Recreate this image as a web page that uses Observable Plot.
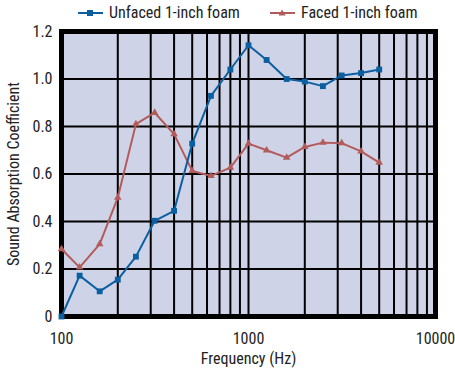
<!DOCTYPE html>
<html>
<head>
<meta charset="utf-8">
<script src="https://cdn.jsdelivr.net/npm/d3@7"></script>
<script src="https://cdn.jsdelivr.net/npm/@observablehq/plot@0.6"></script>
<style>
  html, body { margin: 0; padding: 0; background: #fff; }
  body { width: 455px; height: 368px; overflow: hidden; font-family: "Liberation Sans Narrow", "Roboto Condensed", "Arial Narrow", Roboto, sans-serif; }
  #legend { position: relative; height: 16px; font-size: 16px; color: #222; z-index: 2; }
  .item { position: absolute; top: 3px; display: flex; align-items: center; white-space: nowrap; }
  .item svg { margin-right: 6px; }
</style>
</head>
<body>
<div id="legend"></div>
<div id="chart"></div>
<script>
const frequencies = [100,125,160,200,250,315,400,500,630,800,1000,1250,1600,2000,2500,3150,4000,5000];
const unfaced = [0.0,0.172,0.106,0.155,0.252,0.403,0.445,0.728,0.929,1.04,1.142,1.08,1.0,0.989,0.97,1.015,1.025,1.04];
const faced = [0.284,0.207,0.305,0.501,0.81,0.858,0.768,0.613,0.592,0.627,0.728,0.70,0.669,0.714,0.732,0.730,0.695,0.648];
const seriesNames = ["Unfaced 1-inch foam", "Faced 1-inch foam"];
const seriesColors = ["#0b5fa0", "#b35b5b"];
const xGrid = [100,200,300,400,500,600,700,800,900,1000,2000,3000,4000,5000,6000,7000,8000,9000,10000];
const xTicks = [100, 1000, 10000];
const yTicks = [0, 0.2, 0.4, 0.6, 0.8, 1.0, 1.2];

const dataU = frequencies.map((f, i) => ({f, v: unfaced[i]}));
const dataF = frequencies.map((f, i) => ({f, v: faced[i]}));

// legend
const legend = document.getElementById("legend");
const legendPos = [78, 270];
seriesNames.forEach((name, i) => {
  const div = document.createElement("div");
  div.className = "item";
  div.style.left = legendPos[i] + "px";
  const sym = i === 0
    ? `<rect x="9" y="4" width="6" height="6" fill="${seriesColors[i]}"/>`
    : `<path d="M12,3.5 L15.5,9.5 L8.5,9.5 Z" fill="${seriesColors[i]}"/>`;
  div.innerHTML = `<svg width="25" height="14"><line x1="0" x2="25" y1="7" y2="7" stroke="${seriesColors[i]}" stroke-width="2"/>${sym}</svg><span>${name}</span>`;
  legend.appendChild(div);
});

const chart = Plot.plot({
  width: 455,
  height: 352,
  marginTop: 15,
  marginBottom: 52,
  marginLeft: 61,
  marginRight: 20,
  style: { fontFamily: "'Liberation Sans Narrow', 'Roboto Condensed', 'Arial Narrow', Roboto, sans-serif", fontSize: "16px", color: "#222", background: "#fff" },
  x: { type: "log", domain: [100, 10000] },
  y: { domain: [0, 1.2] },
  marks: [
    Plot.frame({ fill: "#ced3e7" }),
    Plot.ruleX(xGrid, { stroke: "#000", strokeWidth: 2 }),
    Plot.ruleY(yTicks, { stroke: "#000", strokeWidth: 2 }),
    Plot.frame({ stroke: "#000", strokeWidth: 5 }),
    Plot.axisX(xTicks, { tickSize: 0, tickPadding: 16, tickFormat: d => String(d), label: "Frequency (Hz)", labelAnchor: "center", labelArrow: "none", labelOffset: 47 }),
    Plot.axisY(yTicks, { tickSize: 0, tickPadding: 9, tickFormat: d => d === 0 ? "0" : d.toFixed(1), label: "Sound Absorption Coefficient", labelAnchor: "center", labelArrow: "none", labelOffset: 54 }),
    Plot.line(dataF, { x: "f", y: "v", stroke: seriesColors[1], strokeWidth: 2 }),
    Plot.dot(dataF, { x: "f", y: "v", symbol: "triangle", r: 2.8, fill: seriesColors[1] }),
    Plot.line(dataU, { x: "f", y: "v", stroke: seriesColors[0], strokeWidth: 2 }),
    Plot.dot(dataU, { x: "f", y: "v", symbol: "square", r: 3.3, fill: seriesColors[0] })
  ]
});
document.getElementById("chart").appendChild(chart);
</script>
</body>
</html>
